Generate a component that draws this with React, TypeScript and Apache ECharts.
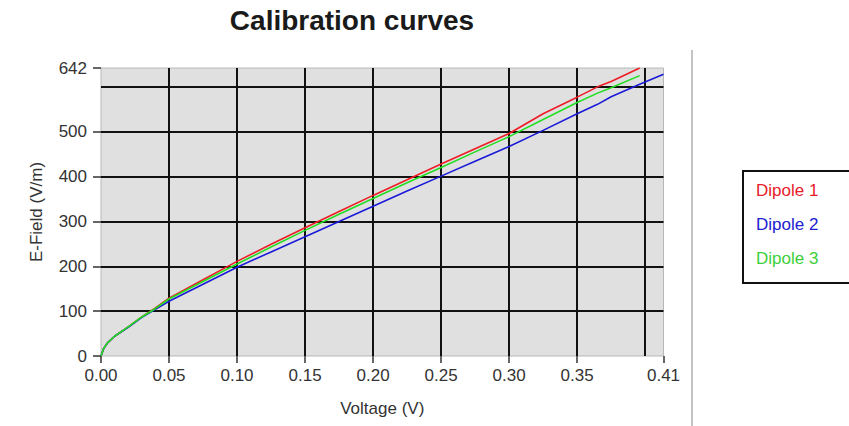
import React, { useEffect, useRef } from "react";
import * as echarts from "echarts";

const voltages = [0, 0.002, 0.005, 0.01, 0.02, 0.03, 0.04, 0.05, 0.075, 0.1, 0.125, 0.15, 0.175, 0.2, 0.225, 0.25, 0.275, 0.3, 0.325, 0.35, 0.365, 0.375, 0.396, 0.4135];
const dipole1 = [0, 17, 30, 44, 65, 87, 107, 129, 170, 211, 249, 286, 322, 358, 393, 428, 462, 496, 540, 577, 600, 612, 642, null];
const dipole2 = [0, 17, 30, 44, 64, 86, 104, 122, 160, 198, 232, 266, 300, 334, 368, 401, 434, 467, 503, 540, 561, 578, 606, 628];
const dipole3 = [0, 17, 30, 44, 65, 87, 106, 127, 166, 205, 243, 280, 316, 351, 386, 420, 455, 489, 527, 565, 586, 598, 625, null];

const seriesNames = ["Dipole 1", "Dipole 2", "Dipole 3"];
const seriesColors = ["#ee1c24", "#1a1ad8", "#22dd22"];
const legendColors = ["#e8202a", "#2020d0", "#3ccf3c"];

const yTickLabels = [0, 100, 200, 300, 400, 500, 642];
const xTickLabels = [0, 0.05, 0.1, 0.15, 0.2, 0.25, 0.3, 0.35, 0.4135];
const xMax = 0.4135;
const yMax = 642;

const FONT = "'Liberation Sans', Arial, sans-serif";

export default function App() {
  const ref = useRef<HTMLDivElement>(null);
  useEffect(() => {
    if (!ref.current) return;
    const chart = echarts.init(ref.current, undefined, { renderer: "svg" });
    const allSeries = [dipole1, dipole2, dipole3];
    const option: any = {
      animation: false,
      backgroundColor: "#ffffff",
      textStyle: { fontFamily: FONT },
      title: {
        text: "Calibration curves",
        left: 352,
        textAlign: "center",
        top: 6,
        padding: 0,
        textStyle: { fontSize: 28, fontWeight: "bold", color: "#1a1a1a", fontFamily: FONT },
      },
      grid: {
        left: 101,
        right: 185.5,
        top: 68,
        bottom: 70,
        show: true,
        backgroundColor: "#e0e0e0",
        borderColor: "#b8b8b8",
        borderWidth: 1,
      },
      xAxis: [
        {
          type: "value",
          min: 0,
          max: xMax,
          interval: 0.05,
          axisLine: { show: false },
          axisTick: { show: false },
          axisLabel: { show: false },
          splitLine: { show: true, showMinLine: false, showMaxLine: false, lineStyle: { color: "#111111", width: 2 } },
        },
        {
          type: "value",
          position: "bottom",
          min: 0,
          max: xMax,
          axisLine: { show: false },
          axisTick: { show: true, customValues: xTickLabels, length: 7, lineStyle: { color: "#333", width: 1.5 } },
          axisLabel: {
            customValues: xTickLabels,
            formatter: (v: number) => v.toFixed(2),
            fontSize: 17,
            color: "#333",
            margin: 11,
            fontFamily: FONT,
          },
          splitLine: { show: false },
          name: "Voltage (V)",
          nameLocation: "middle",
          nameGap: 44,
          nameTextStyle: { fontSize: 17, color: "#333", fontFamily: FONT },
        },
      ],
      yAxis: [
        {
          type: "value",
          min: 0,
          max: yMax,
          interval: 100,
          axisLine: { show: false },
          axisTick: { show: false },
          axisLabel: { show: false },
          splitLine: { show: true, showMinLine: false, showMaxLine: false, lineStyle: { color: "#111111", width: 2 } },
        },
        {
          type: "value",
          position: "left",
          min: 0,
          max: yMax,
          axisLine: { show: false },
          axisTick: { show: true, customValues: yTickLabels, length: 8, lineStyle: { color: "#333", width: 1.5 } },
          axisLabel: { customValues: yTickLabels, fontSize: 17, color: "#333", margin: 14, fontFamily: FONT },
          splitLine: { show: false },
          name: "E-Field (V/m)",
          nameLocation: "middle",
          nameGap: 56,
          nameTextStyle: { fontSize: 17, color: "#333", fontFamily: FONT },
        },
      ],
      legend: {
        orient: "vertical",
        left: 751,
        top: 182,
        itemWidth: 0,
        itemHeight: 0,
        itemGap: 17,
        padding: 0,
        data: seriesNames.map((n, i) => ({
          name: n,
          icon: "rect",
          itemStyle: { opacity: 0 },
          textStyle: { color: legendColors[i], fontSize: 17, fontFamily: FONT },
        })),
      },
      graphic: [
        {
          type: "line",
          shape: { x1: 692, y1: 50, x2: 692, y2: 426 },
          style: { stroke: "#c4c4c4", lineWidth: 2 },
        },
        {
          type: "rect",
          shape: { x: 743, y: 171, width: 220, height: 112 },
          style: { fill: "none", stroke: "#111", lineWidth: 2 },
        },
      ],
      series: seriesNames.map((n, i) => ({
        name: n,
        type: "line",
        xAxisIndex: 0,
        yAxisIndex: 0,
        showSymbol: false,
        z: 3,
        data: voltages
          .map((v, k) => [v, allSeries[i][k]])
          .filter((p) => p[1] !== null),
        lineStyle: { color: seriesColors[i], width: 1.6 },
        itemStyle: { color: seriesColors[i] },
      })),
    };
    chart.setOption(option);
    return () => chart.dispose();
  }, []);
  return (
    <div
      ref={ref}
      style={{ position: "absolute", left: 0, top: 0, width: 849, height: 426 }}
    />
  );
}
